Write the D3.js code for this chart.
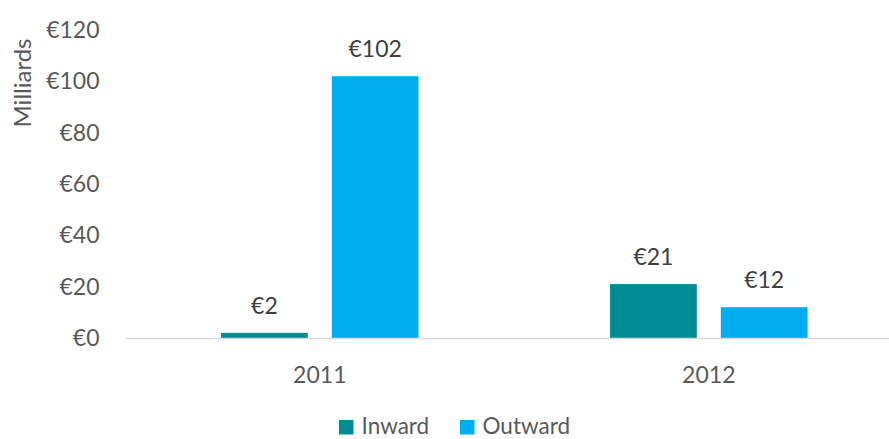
<!DOCTYPE html>
<html>
<head>
<meta charset="utf-8">
<script src="https://cdn.jsdelivr.net/npm/d3@7"></script>
<style>
  html, body { margin: 0; padding: 0; background: #fff; }
  svg { display: block; font-family: Lato, "Open Sans", sans-serif; }
</style>
</head>
<body>
<svg id="chart" width="889" height="439"></svg>
<script>
// Investment flows, billions of euros
const years = ["2011", "2012"];
const seriesNames = ["Inward", "Outward"];
const inward = [2, 21];
const outward = [102, 12];
const yTicks = [0, 20, 40, 60, 80, 100, 120];
const seriesColors = ["#008B95", "#00AEEF"];

const values = [inward, outward];
const rows = years.map((yr, i) => ({
  year: yr,
  bars: seriesNames.map((s, j) => ({ series: s, value: values[j][i], color: seriesColors[j] }))
}));

const svg = d3.select("#chart");
const textColor = "#595959";

const x0 = d3.scaleBand().domain(years).range([125.3, 903.3]).paddingInner(0).paddingOuter(0);
const x1 = d3.scaleBand().domain(seriesNames).range([0, x0.bandwidth()])
  .paddingInner(0.2168).paddingOuter(0.8645);
const y = d3.scaleLinear().domain([0, 120]).range([338, 30]);

const euro = v => "€" + d3.format("d")(v);

// y axis labels (no axis line, no gridlines)
const yAxis = d3.axisLeft(y).tickValues(yTicks).tickFormat(euro).tickSize(0).tickPadding(0);
const gy = svg.append("g").attr("transform", "translate(99.5,0)").call(yAxis);
gy.select(".domain").remove();
gy.selectAll("text")
  .attr("fill", textColor)
  .attr("font-size", 23)
  .attr("font-family", "Lato, 'Open Sans', sans-serif")
  .attr("dy", "0.32em");

// axis title
svg.append("text")
  .attr("transform", "translate(31,83) rotate(-90)")
  .attr("text-anchor", "middle")
  .attr("fill", textColor)
  .attr("font-size", 24)
  .text("Milliards");

// bars
const groups = svg.append("g").selectAll("g").data(rows).join("g")
  .attr("transform", d => `translate(${x0(d.year)},0)`);

groups.selectAll("rect").data(d => d.bars).join("rect")
  .attr("x", d => x1(d.series))
  .attr("y", d => y(d.value))
  .attr("width", x1.bandwidth())
  .attr("height", d => y(0) - y(d.value))
  .attr("fill", d => d.color);

groups.selectAll("text.val").data(d => d.bars).join("text")
  .attr("class", "val")
  .attr("x", d => x1(d.series) + x1.bandwidth() / 2)
  .attr("y", d => y(d.value) - 19)
  .attr("text-anchor", "middle")
  .attr("fill", "#404040")
  .attr("font-size", 23)
  .text(d => euro(d.value));

// x axis baseline and category labels
const xAxis = d3.axisBottom(x0).tickSize(0).tickPadding(0);
const gx = svg.append("g").attr("transform", `translate(0,${y(0)})`).call(xAxis);
gx.select(".domain").attr("stroke", "#D9D9D9").attr("stroke-width", 1.5);
gx.selectAll("text")
  .attr("fill", textColor)
  .attr("font-size", 23)
  .attr("font-family", "Lato, 'Open Sans', sans-serif")
  .attr("dy", null)
  .attr("y", 44.5);

// legend
const legendX = [339, 460];
const legend = svg.append("g").selectAll("g").data(seriesNames).join("g")
  .attr("transform", (d, i) => `translate(${legendX[i]},420)`);
legend.append("rect").attr("width", 14.5).attr("height", 14.5).attr("fill", (d, i) => seriesColors[i]);
legend.append("text")
  .attr("x", 22.5)
  .attr("y", 14)
  .attr("fill", textColor)
  .attr("font-size", 22.5)
  .text(d => d);
</script>
</body>
</html>
